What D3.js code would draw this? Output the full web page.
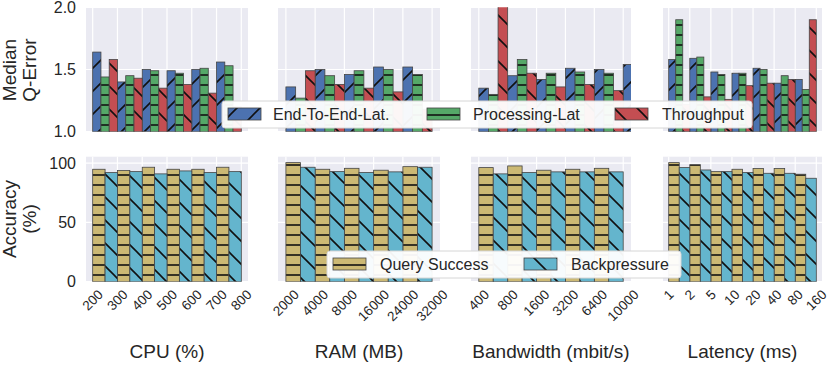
<!DOCTYPE html>
<html lang="en">
<head>
<meta charset="utf-8">
<title>Q-Error and accuracy per resource</title>
<script src="https://d3js.org/d3.v7.min.js"></script>
<style>
  body { margin: 0; background: #fff; }
  text { font-family: "Liberation Sans", Arial, sans-serif; fill: #262626; }
</style>
</head>
<body>
<script>
// tick labels per panel
var cpuTicks = ["200", "300", "400", "500", "600", "700", "800"];
var ramTicks = ["2000", "4000", "8000", "16000", "24000", "32000"];
var bwTicks = ["400", "800", "1600", "3200", "6400", "10000"];
var latTicks = ["1", "2", "5", "10", "20", "40", "80", "160"];

// median q-error
var cpuE2E = [1.64, 1.40, 1.50, 1.49, 1.50, 1.56];
var cpuProc = [1.44, 1.45, 1.49, 1.47, 1.51, 1.53];
var cpuThr = [1.58, 1.43, 1.35, 1.38, 1.31, 1.20];
var ramE2E = [1.36, 1.50, 1.46, 1.52, 1.52];
var ramProc = [1.27, 1.45, 1.49, 1.50, 1.46];
var ramThr = [1.49, 1.38, 1.35, 1.32, 1.18];
var bwE2E = [1.35, 1.45, 1.42, 1.51, 1.50, 1.54];
var bwProc = [1.30, 1.58, 1.47, 1.48, 1.47];
var bwThr = [2.05, 1.47, 1.36, 1.38, 1.33];
var latE2E = [1.58, 1.59, 1.48, 1.47, 1.51, 1.39, 1.42];
var latProc = [1.90, 1.60, 1.46, 1.47, 1.50, 1.45, 1.34];
var latThr = [1.22, 1.28, 1.26, 1.37, 1.39, 1.42, 1.90];

// accuracy (%)
var cpuQS = [94.9, 93.8, 96.6, 94.9, 94.9, 96.6];
var cpuBP = [92.1, 92.9, 91.0, 93.5, 92.1, 92.9];
var ramQS = [100.5, 94.9, 95.7, 94.1, 97.1];
var ramBP = [96.6, 92.9, 92.1, 92.7, 96.6];
var bwQS = [96.3, 97.7, 94.1, 94.9, 95.7];
var bwBP = [91.0, 92.1, 92.7, 92.7, 92.7];
var latQS = [100.5, 98.8, 92.9, 94.9, 95.5, 95.5, 90.7];
var latBP = [96.3, 94.3, 92.9, 92.1, 91.5, 91.5, 87.3];

var qeNames = ["End-To-End-Lat.", "Processing-Lat", "Throughput"];
var accNames = ["Query Success", "Backpressure"];
var qeTicks = [1.0, 1.5, 2.0];
var accTicks = [0, 50, 100];

var panels = [
    { ticks: cpuTicks, qe: [cpuE2E, cpuProc, cpuThr], acc: [cpuQS, cpuBP], title: "CPU (%)", x0: 86, x1: 248 },
    { ticks: ramTicks, qe: [ramE2E, ramProc, ramThr], acc: [ramQS, ramBP], title: "RAM (MB)", x0: 278, x1: 440 },
    { ticks: bwTicks, qe: [bwE2E, bwProc, bwThr], acc: [bwQS, bwBP], title: "Bandwidth (mbit/s)", x0: 471, x1: 631 },
    { ticks: latTicks, qe: [latE2E, latProc, latThr], acc: [latQS, latBP], title: "Latency (ms)", x0: 663, x1: 822 }
];

var qeStyle = [
    { color: "#4C72B0", hatch: "fwd" },
    { color: "#55A868", hatch: "horiz" },
    { color: "#C44E52", hatch: "back" }
];
var accStyle = [
    { color: "#CCB974", hatch: "horiz" },
    { color: "#64B5CD", hatch: "back" }
];

var width = 831, height = 367;
var svg = d3.select("body").append("svg")
    .attr("width", width)
    .attr("height", height);
var defs = svg.append("defs");

// hatch patterns, anchored to the page like matplotlib does
function makePattern(id, color, hatch) {
    var s = hatch == "horiz" ? 10 : 23;
    var p = defs.append("pattern")
        .attr("id", id)
        .attr("patternUnits", "userSpaceOnUse")
        .attr("width", s)
        .attr("height", s);
    p.append("rect").attr("width", s).attr("height", s).attr("fill", color);
    var d;
    if (hatch == "horiz") d = "M0,5L10,5";
    else if (hatch == "fwd") d = "M0,23L23,0M-3,3L3,-3M20,26L26,20";
    else d = "M0,0L23,23M-3,20L3,26M20,-3L26,3";
    p.append("path").attr("d", d)
        .attr("stroke", "#111")
        .attr("stroke-width", 1.6)
        .attr("fill", "none");
}
qeStyle.forEach(function(s, i) { makePattern("qe" + i, s.color, s.hatch); });
accStyle.forEach(function(s, i) { makePattern("acc" + i, s.color, s.hatch); });

var rows = [
    { key: "qe", style: qeStyle, y: d3.scaleLinear().domain([1, 2]).range([131.7, 7.3]), ticks: qeTicks, fmt: d3.format(".1f") },
    { key: "acc", style: accStyle, y: d3.scaleLinear().domain([0, 105.5]).range([281.7, 156.7]), ticks: accTicks, fmt: d3.format("d") }
];

panels.forEach(function(p, pi) {
    var n = p.ticks.length;
    var x = d3.scaleLinear().domain([-0.27, n - 1 + 0.27]).range([p.x0, p.x1]);

    rows.forEach(function(row, ri) {
        var y = row.y;
        var top = y.range()[1], bottom = y.range()[0];
        var g = svg.append("g");

        g.append("rect")
            .attr("x", p.x0).attr("y", top)
            .attr("width", p.x1 - p.x0).attr("height", bottom - top)
            .attr("fill", "#EAEAF2");

        // grid
        g.selectAll(".hg").data(row.ticks).enter().append("line")
            .attr("x1", p.x0).attr("x2", p.x1)
            .attr("y1", function(d) { return y(d); })
            .attr("y2", function(d) { return y(d); })
            .attr("stroke", "#fff").attr("stroke-width", 1.2);
        g.selectAll(".vg").data(d3.range(n)).enter().append("line")
            .attr("x1", function(d) { return x(d); })
            .attr("x2", function(d) { return x(d); })
            .attr("y1", top).attr("y2", bottom)
            .attr("stroke", "#fff").attr("stroke-width", 1.2);

        var clipId = "clip" + pi + "_" + ri;
        svg.append("clipPath").attr("id", clipId)
            .append("rect")
            .attr("x", p.x0).attr("y", top)
            .attr("width", p.x1 - p.x0).attr("height", bottom - top);

        var series = p[row.key];
        var k = series.length;
        var bars = [];
        series.forEach(function(vals, si) {
            vals.forEach(function(v, i) {
                bars.push({ s: si, i: i, v: v });
            });
        });
        var step = x(1) - x(0);
        g.append("g").attr("clip-path", "url(#" + clipId + ")")
            .selectAll("rect").data(bars).enter().append("rect")
            .attr("x", function(d) { return x(d.i) + d.s * step / k; })
            .attr("width", step / k)
            .attr("y", function(d) { return y(d.v); })
            .attr("height", function(d) { return bottom - y(d.v); })
            .attr("fill", function(d) { return "url(#" + row.key + d.s + ")"; })
            .attr("stroke", "#444")
            .attr("stroke-width", 0.8);

        // y tick labels only on first column
        if (pi == 0) {
            svg.selectAll(null).data(row.ticks).enter().append("text")
                .attr("x", 76)
                .attr("y", function(d) { return y(d); })
                .attr("dy", "0.35em")
                .attr("text-anchor", "end")
                .style("font-size", "16px")
                .text(row.fmt);
        }
    });

    // rotated x tick labels under the bottom row
    var labTop = 288;
    p.ticks.forEach(function(t, i) {
        var txt = svg.append("text")
            .attr("text-anchor", "middle")
            .attr("dominant-baseline", "central")
            .style("font-size", "13.5px")
            .text(t);
        var L = txt.node().getComputedTextLength();
        var cy = labTop + (L + 12) / (2 * Math.SQRT2);
        txt.attr("transform", "translate(" + x(i) + "," + cy + ") rotate(-45)");
    });

    svg.append("text")
        .attr("x", (p.x0 + p.x1) / 2)
        .attr("y", 358)
        .attr("text-anchor", "middle")
        .style("font-size", "19px")
        .text(p.title);
});

// y axis titles
function yTitle(lines, cy) {
    lines.forEach(function(l, i) {
        svg.append("text")
            .attr("transform", "translate(" + (16 + i * 20) + "," + cy + ") rotate(-90)")
            .attr("text-anchor", "middle")
            .style("font-size", "19px")
            .text(l);
    });
}
yTitle(["Median", "Q-Error"], 70);
yTitle(["Accuracy", "(%)"], 219);

// legends
function legend(names, prefix, box, swatchX, textX, baseline) {
    var g = svg.append("g");
    g.append("rect")
        .attr("x", box[0]).attr("y", box[1])
        .attr("width", box[2] - box[0]).attr("height", box[3] - box[1])
        .attr("rx", 3)
        .attr("fill", "#fff").attr("fill-opacity", 0.95)
        .attr("stroke", "#d6d6d6");
    names.forEach(function(nm, i) {
        g.append("rect")
            .attr("x", swatchX[i]).attr("y", baseline - 12)
            .attr("width", 33).attr("height", 12)
            .attr("fill", "url(#" + prefix + i + ")")
            .attr("stroke", "#444").attr("stroke-width", 0.8);
        g.append("text")
            .attr("x", textX[i]).attr("y", baseline)
            .style("font-size", "16px")
            .text(nm);
    });
}
legend(qeNames, "qe", [222, 101, 752, 128], [228, 427, 615], [273, 473, 662], 120);
legend(accNames, "acc", [327, 251, 681, 278], [333, 524], [380, 571], 270);
</script>
</body>
</html>
